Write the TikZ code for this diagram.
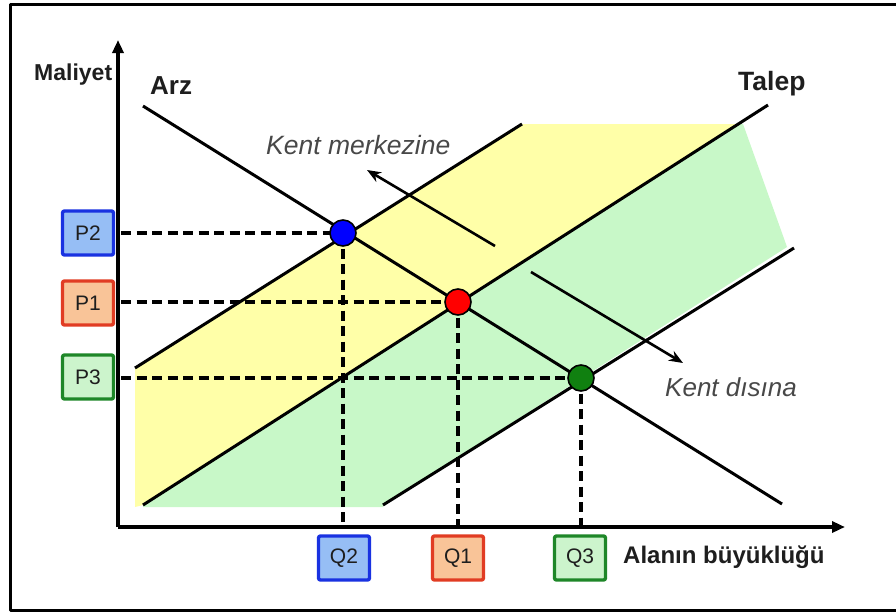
\documentclass[tikz,border=0pt]{standalone}
\usepackage{fontspec}
\setmainfont{Liberation Sans}
\usetikzlibrary{arrows.meta}
\definecolor{yel}{RGB}{255,255,168}
\definecolor{grn}{RGB}{200,248,200}
\definecolor{bfill}{RGB}{150,190,245}
\definecolor{bline}{RGB}{25,50,225}
\definecolor{rfill}{RGB}{249,196,152}
\definecolor{rline}{RGB}{225,60,35}
\definecolor{gfill}{RGB}{204,244,204}
\definecolor{gline}{RGB}{30,135,40}
\definecolor{ptgreen}{RGB}{16,128,16}
\definecolor{txtgray}{RGB}{72,72,72}
\definecolor{txtdark}{RGB}{30,30,30}
\tikzset{
  mainline/.style={line width=3pt},
  axisline/.style={line width=3.8pt, -{Triangle[length=13pt,width=11pt]}},
  dline/.style={line width=3.4pt, dash pattern=on 10pt off 5.5pt},
  pt/.style={circle, draw=black, line width=1.6pt, minimum size=26pt, inner sep=0pt},
  valbox/.style={draw, line width=3.4pt, rounded corners=2pt, minimum width=51pt, minimum height=44pt, inner sep=0pt, font=\fontsize{21}{21}\selectfont, text=txtdark},
  lbl/.style={inner sep=0pt, text=txtdark, font=\fontsize{24}{24}\selectfont},
  movearrow/.style={line width=2.6pt, -{Stealth[length=14pt,width=11pt]}}
}
\begin{document}
\begin{tikzpicture}[x=1pt,y=-1pt, line join=round]
\useasboundingbox (0,0) rectangle (896,613);
\fill[white] (0,0) rectangle (896,613);
\draw[line width=3pt] (900,4) -- (10,4) -- (10,610) -- (900,610);

% shaded bands
\fill[yel] (135,368) -- (522,124) -- (737,124) -- (143,505) -- (135,507) -- cycle;
\fill[grn] (737,124) -- (743,124) -- (787,247) -- (383,505) -- (383,507) -- (143,507) -- (143,505) -- cycle;

% curve end points
\coordinate (arzA) at (143,106);
\coordinate (arzB) at (782,504);
\coordinate (talA) at (143,505);
\coordinate (talB) at (768,105);
\coordinate (upA) at (135,368);
\coordinate (upB) at (522,124);
\coordinate (loA) at (383,505);
\coordinate (loB) at (794,248);

\draw[mainline] (upA) -- (upB);
\draw[mainline] (loA) -- (loB);
\draw[mainline] (talA) -- (talB);
\draw[mainline] (arzA) -- (arzB);

% axes
\coordinate (O) at (118,527);
\coordinate (ytop) at (118,40);
\coordinate (xend) at (845,527);
\draw[axisline] (O) -- (ytop);
\draw[axisline] (O) -- (xend);

% axis feet of dashed lines
\coordinate (p2a) at (121,233);
\coordinate (p1a) at (121,302);
\coordinate (p3a) at (121,378);
\coordinate (q2a) at (343,526);
\coordinate (q1a) at (458,526);
\coordinate (q3a) at (581,526);

\coordinate (Bc) at (343,233);
\coordinate (Rc) at (458,302);
\coordinate (Gc) at (581,378);

\draw[dline] (p2a) -- (Bc);
\draw[dline] (p1a) -- (Rc);
\draw[dline] (p3a) -- (Gc);
\draw[dline] (Bc) -- (q2a);
\draw[dline] (Rc) -- (q1a);
\draw[dline] (Gc) -- (q3a);

\node[pt, fill=blue] (B) at (Bc) {};
\node[pt, fill=red] (R) at (Rc) {};
\node[pt, fill=ptgreen] (G) at (Gc) {};

% movement arrows
\coordinate (kmA) at (495,246);
\coordinate (kmB) at (367,170);
\coordinate (kdA) at (531,272);
\coordinate (kdB) at (683,363);
\draw[movearrow] (kmA) -- (kmB);
\draw[movearrow] (kdA) -- (kdB);

% value boxes
\node[valbox, draw=bline, fill=bfill] (P2) at (88,233) {P2};
\node[valbox, draw=rline, fill=rfill] (P1) at (88,303) {P1};
\node[valbox, draw=gline, fill=gfill] (P3) at (88,377) {P3};
\node[valbox, draw=bline, fill=bfill] (Q2) at (344,558) {Q2};
\node[valbox, draw=rline, fill=rfill] (Q1) at (458,558) {Q1};
\node[valbox, draw=gline, fill=gfill] (Q3) at (580,558) {Q3};

% labels
\node[lbl, font=\fontsize{23}{23}\selectfont\bfseries, anchor=base west] (mal) at (34,80) {Maliyet};
\node[lbl, font=\fontsize{26}{26}\selectfont\bfseries, anchor=base west] (arz) at (150,94) {Arz};
\node[lbl, font=\fontsize{26.5}{26}\selectfont\bfseries, anchor=base west] (tal) at (738,90) {Talep};
\node[lbl, font=\fontsize{26.5}{26}\selectfont\itshape, text=txtgray, anchor=base west] (km) at (266,154) {Kent merkezine};
\node[lbl, font=\fontsize{26}{26}\selectfont\itshape, text=txtgray, anchor=base west] (kd) at (665,396) {Kent dısına};
\node[lbl, font=\fontsize{24}{24}\selectfont\bfseries, anchor=base west] (ab) at (623,563) {Alanın büyüklüğü};
\end{tikzpicture}
\end{document}
